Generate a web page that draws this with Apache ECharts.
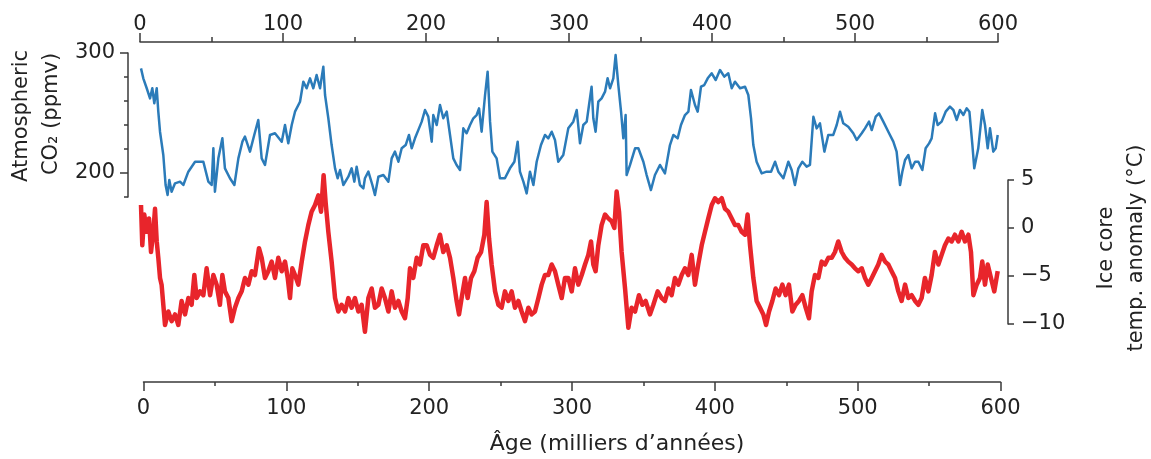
<!DOCTYPE html>
<html>
<head>
  <meta charset="UTF-8">
  <title>CO2 et température - carotte de glace</title>
  <style>
    html, body { margin: 0; padding: 0; background: #fff; }
    #chart { width: 1151px; height: 459px; }
  </style>
  <script type="text/javascript" src="https://cdn.jsdelivr.net/npm/echarts@6/dist/echarts.min.js"></script>
</head>
<body>
  <div id="chart"></div>
  <script>
    // axes
    var ageTicks = [0, 100, 200, 300, 400, 500, 600];
    var co2Labels = [200, 300];
    var tempLabels = [5, 0, -5, -10];

    // CO2 (ppmv), age in thousands of years
    var co2Age = [0.7,2.3,4.7,7.0,8.6,10.0,11.7,12.8,14.0,16.3,17.9,19.3,20.5,22.1,24.5,28.0,30.3,33.8,38.5,44.3,47.8,50.1,51.3,52.4,54.8,57.6,59.4,62.9,66.0,68.8,71.6,73.4,76.9,79.9,82.7,85.1,87.4,90.9,94.4,99.1,101.4,103.7,106.1,108.4,111.9,114.2,116.5,118.9,121.2,123.5,125.9,128.2,129.4,131.7,134.0,136.4,138.2,139.9,142.2,145.7,148.0,149.9,151.5,153.8,156.2,157.3,159.7,162.5,164.3,166.7,170.2,173.7,176.0,178.3,180.7,183.0,185.8,188.1,190.0,192.3,195.1,197.0,199.3,201.6,204.0,205.1,207.5,209.8,212.1,214.5,216.8,219.1,221.4,223.8,226.1,228.4,230.8,233.1,235.4,237.1,238.9,241.3,243.1,244.8,246.4,249.4,251.7,255.2,258.7,261.8,264.1,265.7,268.1,270.4,272.7,275.1,277.4,280.4,283.2,285.5,287.9,290.2,292.5,296.0,299.5,
      300.7,303.0,305.4,307.7,310.0,312.4,314.0,315.8,317.0,318.6,320.5,322.8,325.2,327.0,328.7,331.0,332.6,334.5,336.4,338.0,339.6,340.3,342.7,346.2,348.5,352.0,354.3,357.3,360.1,363.6,367.1,370.6,373.0,376.0,378.3,381.1,383.5,385.3,388.1,390.0,392.3,394.6,397.0,399.8,402.6,405.6,408.6,411.4,413.8,416.1,419.6,423.1,425.4,427.3,428.9,431.2,434.7,438.2,441.3,444.1,446.4,449.9,453.4,455.7,458.0,460.4,463.2,466.2,468.5,470.9,473.2,475.5,478.6,481.3,484.8,487.2,489.5,491.8,495.3,498.8,501.2,504.7,507.0,509.8,511.7,514.5,516.8,519.8,523.3,526.8,529.1,531.5,533.1,535.0,537.3,539.6,542.0,544.3,547.1,549.4,551.8,553.6,556.0,557.8,560.6,563.4,566.4,568.8,571.1,573.4,575.8,578.1,580.0,582.1,583.4,586.2,589.0,590.9,592.8,594.4,596.7,598.4,599.8];
    var co2Value = [287.2,278.9,270.6,262.2,270.6,258.1,270.6,251.1,234.4,215.0,190.0,181.7,194.2,184.4,191.4,192.8,190.0,201.1,209.4,209.4,192.8,190.0,220.6,184.4,212.2,228.9,203.9,195.6,190.0,212.2,226.1,230.3,217.8,231.7,244.2,212.2,206.7,231.7,233.1,226.1,240.0,224.7,240.0,251.1,259.4,276.1,270.6,278.9,270.6,281.7,270.6,288.6,265.0,245.6,223.3,203.9,195.6,202.5,190.0,196.9,203.9,192.8,205.3,190.0,187.2,195.6,201.1,190.0,181.7,196.9,198.3,192.8,212.2,217.8,209.4,220.6,223.3,231.7,220.6,228.9,237.2,242.8,252.5,247.0,226.1,248.3,240.0,256.7,245.6,251.1,231.7,212.2,206.7,202.5,237.2,233.1,240.0,245.6,248.3,253.9,234.4,265.0,284.4,242.8,217.8,212.2,195.6,195.6,203.9,209.4,226.1,201.1,192.8,183.0,201.1,190.0,209.4,223.3,231.7,228.9,234.4,227.5,209.4,215.0,237.2,
      237.2,242.8,252.5,224.7,240.0,242.8,256.7,271.9,245.6,234.4,259.4,262.2,267.8,278.9,270.6,278.9,298.3,273.3,251.1,228.9,248.3,198.3,206.7,220.6,220.6,209.4,198.3,185.8,198.3,206.7,199.7,223.3,231.7,228.9,240.0,248.3,251.1,269.2,256.7,251.1,271.9,273.3,278.9,283.1,277.5,285.8,280.3,283.1,270.6,276.1,270.6,271.9,265.0,245.6,223.3,209.4,199.7,201.1,201.1,209.4,201.1,195.6,209.4,202.5,190.0,203.9,209.4,205.3,206.7,246.9,237.2,241.4,217.8,231.7,231.7,240.0,251.1,241.4,238.6,233.1,227.5,233.1,237.2,242.8,235.8,246.9,249.7,242.8,234.4,226.1,217.8,190.0,201.1,210.8,215.0,203.9,209.4,209.4,202.5,220.6,224.7,228.9,249.7,240.0,242.8,251.1,255.3,252.5,244.2,252.5,248.3,253.9,251.1,223.3,203.9,220.6,252.5,240.0,220.6,237.2,217.8,220.6,231.7];

    // ice core temperature anomaly (°C)
    var tempAge = [0.7,1.6,3.0,4.7,6.3,7.7,9.3,10.5,11.7,12.8,14.0,15.1,16.3,17.5,19.8,22.1,24.5,26.8,29.1,31.5,33.8,36.1,38.0,39.6,42.0,44.3,46.6,49.0,51.3,53.6,55.9,57.6,59.4,61.8,64.1,66.4,68.8,71.1,73.4,75.8,78.1,80.4,83.2,85.1,87.4,89.7,92.1,94.4,96.7,99.1,101.4,103.3,104.9,106.5,108.4,110.7,113.1,115.4,117.7,120.0,122.4,124.7,126.6,128.4,129.8,131.7,134.0,136.4,138.7,141.0,143.4,145.7,148.0,150.3,152.7,155.0,157.3,159.7,162.0,164.3,166.7,169.0,171.3,173.7,176.0,178.3,180.7,183.0,185.3,187.2,188.8,191.1,193.5,195.8,198.1,200.5,202.8,205.1,207.5,209.8,212.1,214.5,216.8,219.1,221.4,223.1,224.9,227.3,229.1,231.5,233.8,236.1,238.5,240.8,242.4,244.1,245.9,248.3,250.6,252.9,255.2,257.6,259.9,262.2,264.6,266.9,269.2,271.6,273.9,276.2,278.6,280.9,283.2,285.5,287.9,290.2,292.5,294.9,297.2,
      299.5,301.9,304.2,306.5,308.9,311.2,313.5,315.4,317.0,318.6,320.5,322.8,325.2,327.5,329.8,331.7,333.3,335.0,336.8,339.2,341.5,343.8,346.2,348.9,351.3,353.6,356.6,359.0,362.0,364.8,367.1,369.5,371.8,374.1,376.5,378.8,381.1,383.4,385.8,388.1,390.4,392.8,395.1,397.4,399.8,402.1,404.4,406.8,409.1,411.4,413.8,416.1,418.4,420.7,423.1,424.9,426.6,428.9,431.2,433.6,435.9,437.8,439.9,442.2,444.5,446.9,449.2,451.5,453.8,456.2,458.5,460.8,463.2,465.5,467.8,469.7,472.0,474.4,476.7,479.0,481.4,483.7,486.0,488.3,490.7,493.0,495.3,497.7,500.0,502.3,504.7,507.0,509.3,511.7,514.0,516.3,518.6,521.0,523.3,525.6,528.0,530.3,532.6,535.0,537.3,539.6,542.0,544.3,546.6,548.9,551.3,553.6,555.9,558.3,560.6,562.9,565.3,567.6,569.9,572.3,574.6,576.9,579.3,581.1,582.8,585.1,587.4,589.0,590.9,592.8,595.1,597.4,599.8];
    var tempValue = [2.4,-1.8,1.4,-0.4,1.0,-2.5,-0.4,2.0,-1.4,-3.1,-5.2,-5.9,-8.0,-10.1,-8.7,-9.7,-9.0,-10.1,-7.6,-9.0,-7.3,-8.0,-4.9,-7.3,-6.6,-7.0,-4.2,-7.0,-4.9,-5.9,-8.0,-4.9,-6.6,-7.3,-9.7,-8.3,-7.3,-6.6,-5.2,-5.9,-4.5,-4.9,-2.1,-3.1,-5.2,-4.5,-3.5,-5.2,-3.1,-4.5,-3.5,-5.2,-7.3,-4.2,-4.9,-5.9,-3.5,-1.4,0.3,1.7,2.4,3.4,1.7,5.5,2.7,-0.4,-3.5,-7.3,-8.7,-8.0,-8.7,-7.3,-8.3,-7.3,-8.7,-8.0,-10.8,-7.3,-6.3,-8.3,-8.0,-6.3,-7.3,-8.7,-6.6,-8.3,-7.6,-8.7,-9.4,-7.3,-4.2,-5.2,-3.1,-3.8,-1.8,-1.8,-2.8,-3.1,-1.8,-0.7,-2.5,-1.8,-3.1,-5.2,-7.6,-9.0,-7.3,-5.2,-7.3,-5.2,-4.5,-3.1,-2.5,-0.7,2.7,-1.1,-3.8,-6.6,-8.0,-8.3,-6.6,-7.6,-6.6,-8.3,-7.6,-8.7,-9.7,-8.3,-9.0,-8.7,-7.3,-5.9,-4.9,-4.9,-3.8,-4.5,-5.9,-7.3,-5.2,
      -5.2,-6.6,-4.2,-5.9,-4.9,-3.8,-2.8,-1.4,-3.8,-4.5,-1.8,0.3,1.4,1.0,0.7,0.0,3.8,1.7,-2.5,-6.3,-10.4,-8.3,-8.7,-7.0,-8.0,-7.6,-9.0,-8.0,-6.6,-7.3,-7.6,-6.3,-7.0,-5.2,-5.9,-4.9,-4.2,-4.9,-2.8,-5.9,-3.8,-1.8,-0.4,1.0,2.4,3.1,2.7,3.1,2.0,1.7,1.0,0.3,0.3,-0.4,-0.7,1.4,-1.8,-5.2,-7.6,-8.3,-9.0,-10.1,-8.7,-7.6,-6.3,-7.0,-5.9,-7.0,-5.9,-8.7,-8.0,-7.6,-7.0,-8.3,-9.4,-6.6,-4.9,-5.2,-3.5,-3.8,-3.1,-3.1,-2.5,-1.4,-2.5,-3.1,-3.5,-3.8,-4.2,-4.5,-4.2,-5.2,-5.9,-5.2,-4.5,-3.8,-2.8,-3.5,-3.8,-4.5,-5.2,-6.6,-7.6,-5.9,-7.3,-7.0,-7.6,-8.0,-7.3,-5.2,-6.6,-4.9,-2.5,-3.8,-2.8,-1.8,-1.1,-1.4,-0.7,-1.4,-0.4,-1.4,-0.7,-2.5,-7.0,-5.9,-5.2,-3.5,-5.9,-3.8,-5.2,-6.6,-4.5];

    function zip(xs, ys) {
      var n = Math.min(xs.length, ys.length), out = [];
      for (var i = 0; i < n; i++) out.push([xs[i], ys[i]]);
      return out;
    }

    var FONT = 'DejaVu Sans';
    var INK = '#222';
    var AXIS = '#3a3a3a';
    var labelStyle = { fontFamily: FONT, fontSize: 21, color: INK };
    var lineStyle = { color: AXIS, width: 1.5 };

    var chart = echarts.init(document.getElementById('chart'));
    var option = {
      animation: false,
      backgroundColor: '#fff',
      grid: [
        { left: 140, right: 153, top: 53, height: 144 },   // CO2
        { left: 140, right: 153, top: 180, height: 144 },  // temperature
        { left: 143.5, right: 150.5, top: 370, height: 12 } // bottom age axis
      ],
      xAxis: [
        {
          gridIndex: 0, type: 'value', position: 'top', offset: 11,
          min: 0, max: 600, interval: 100,
          axisLine: { onZero: false, lineStyle: lineStyle },
          axisTick: { length: 9, lineStyle: lineStyle },
          minorTick: { show: true, splitNumber: 2, length: 5, lineStyle: lineStyle },
          axisLabel: Object.assign({ margin: 7, customValues: ageTicks }, labelStyle),
          splitLine: { show: false }
        },
        { gridIndex: 1, type: 'value', min: 0, max: 600, show: false },
        {
          gridIndex: 2, type: 'value', position: 'bottom',
          min: 0, max: 600, interval: 100,
          axisLine: { onZero: false, lineStyle: lineStyle },
          axisTick: { length: 9, lineStyle: lineStyle },
          minorTick: { show: true, splitNumber: 2, length: 4, lineStyle: lineStyle },
          axisLabel: Object.assign({ margin: 16, customValues: ageTicks }, labelStyle),
          splitLine: { show: false }
        }
      ],
      yAxis: [
        {
          gridIndex: 0, type: 'value', position: 'left', offset: 12,
          min: 180, max: 300, interval: 20,
          axisLine: { show: true, onZero: false, lineStyle: lineStyle },
          axisTick: { show: true, length: 4, lineStyle: lineStyle },
          axisLabel: { show: false },
          splitLine: { show: false }
        },
        {
          gridIndex: 0, type: 'value', position: 'left', offset: 12,
          min: 180, max: 300,
          axisLine: { show: false, onZero: false },
          axisTick: { show: true, length: 8, customValues: co2Labels, lineStyle: lineStyle },
          axisLabel: Object.assign({ margin: 13, customValues: co2Labels }, labelStyle),
          splitLine: { show: false }
        },
        {
          gridIndex: 1, type: 'value', position: 'right', offset: 10,
          min: -10, max: 5, interval: 5,
          axisLine: { show: true, onZero: false, lineStyle: lineStyle },
          axisTick: { show: true, length: 6, lineStyle: lineStyle },
          axisLabel: Object.assign({
            margin: 13, customValues: tempLabels,
            formatter: function (v) { return String(v).replace('-', '\u2212'); }
          }, labelStyle),
          splitLine: { show: false }
        },
        { gridIndex: 2, type: 'value', show: false }
      ],
      graphic: [
        { type: 'text', x: 22, y: 116, rotation: Math.PI / 2,
          style: { text: 'Atmospheric', fontFamily: FONT, fontSize: 21, fill: INK, align: 'center', verticalAlign: 'middle' } },
        { type: 'text', x: 52, y: 114, rotation: Math.PI / 2,
          style: { text: 'CO\u2082 (ppmv)', fontFamily: FONT, fontSize: 21, fill: INK, align: 'center', verticalAlign: 'middle' } },
        { type: 'text', x: 1107, y: 248, rotation: Math.PI / 2,
          style: { text: 'Ice core', fontFamily: FONT, fontSize: 21, fill: INK, align: 'center', verticalAlign: 'middle' } },
        { type: 'text', x: 1137, y: 248, rotation: Math.PI / 2,
          style: { text: 'temp. anomaly (°C)', fontFamily: FONT, fontSize: 21, fill: INK, align: 'center', verticalAlign: 'middle' } },
        { type: 'text', x: 617, y: 444,
          style: { text: 'Âge (milliers d\u2019années)', fontFamily: FONT, fontSize: 22, fill: INK, align: 'center', verticalAlign: 'middle' } }
      ],
      series: [
        {
          name: 'CO2', type: 'line', xAxisIndex: 0, yAxisIndex: 0,
          data: zip(co2Age, co2Value), showSymbol: false, clip: false,
          lineStyle: { color: '#2b7bb9', width: 2.5, join: 'round' }
        },
        {
          name: 'Température', type: 'line', xAxisIndex: 1, yAxisIndex: 2,
          data: zip(tempAge, tempValue), showSymbol: false, clip: false,
          lineStyle: { color: '#e8252b', width: 4.5, join: 'round' }
        }
      ]
    };
    chart.setOption(option);
  </script>
</body>
</html>
